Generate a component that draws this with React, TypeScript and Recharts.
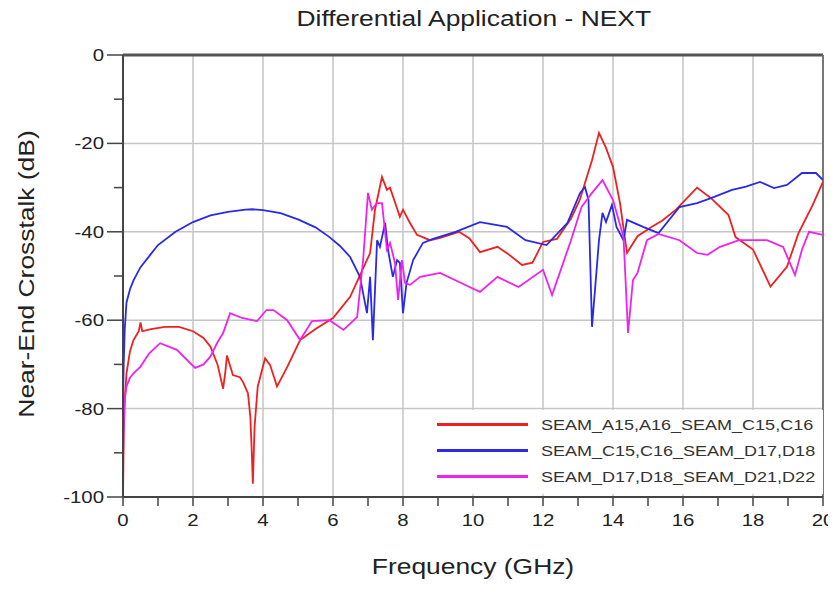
import { CartesianGrid, Legend, Line, LineChart, ReferenceLine, XAxis, YAxis } from "recharts";

const TITLE = "Differential Application - NEXT";
const X_LABEL = "Frequency (GHz)";
const Y_LABEL = "Near-End Crosstalk (dB)";

const SERIES_NAMES = [
  "SEAM_A15,A16_SEAM_C15,C16",
  "SEAM_C15,C16_SEAM_D17,D18",
  "SEAM_D17,D18_SEAM_D21,D22",
];
const COLORS = ["#ee2020", "#2a2ae6", "#ee22ee"];

const RED_FREQ = [
  0, 0.02, 0.05, 0.1, 0.2, 0.3, 0.45, 0.5, 0.55, 0.8, 1.2, 1.6, 2.0, 2.3, 2.5, 2.7, 2.86, 2.92, 2.97,
  3.14, 3.34, 3.43, 3.57, 3.64, 3.68, 3.71, 3.76, 3.85, 4.06, 4.2, 4.3, 4.4, 4.5, 4.69, 5.06, 5.5, 6.0,
  6.49, 7.06, 7.2, 7.4, 7.54, 7.63, 7.8, 7.91, 8.0, 8.2, 8.4, 8.77, 9.06, 9.6, 9.9, 10.2, 10.7, 11.0,
  11.4, 11.7, 12.0, 12.4, 12.8, 13.05, 13.4, 13.6, 13.8, 14.0, 14.2, 14.4, 14.7, 15.1, 15.4, 15.8, 16.4,
  16.8, 17.3, 17.5, 18.0, 18.5, 18.97, 19.3, 19.7, 20,
];
const RED_DB = [
  -100, -86, -78, -72, -67, -64.5, -62.5, -60.5, -62.5, -62, -61.5, -61.5, -62.5, -64, -66, -70, -75.5,
  -72, -68, -72.4, -72.9, -74, -76.5, -82, -90, -97, -84, -75, -68.6, -70.1, -72.5, -75, -73.5, -70.6,
  -64.5, -62, -59.5, -54.7, -44.8, -35, -27.6, -30.5, -30, -34, -36.6, -35, -38, -40.7, -41.9, -41.4,
  -40, -41.5, -44.6, -43.4, -45, -47.5, -47, -42.3, -41.6, -37, -32.8, -23.8, -17.6, -21, -25.3,
  -33.5, -44.8, -41, -38.9, -37.5, -35, -30, -32.4, -36.2, -41.2, -44, -52.4, -47.9, -40.3, -34, -28.7,
];

const BLUE_FREQ = [
  0, 0.02, 0.05, 0.1, 0.2, 0.3, 0.5, 0.8, 1.0, 1.5, 2.0, 2.5, 3.0, 3.5, 3.7, 4.0, 4.5, 5.0, 5.5, 5.9,
  6.2, 6.49, 6.77, 6.97, 7.06, 7.14, 7.26, 7.34, 7.49, 7.57, 7.71, 7.83, 7.91, 8.0, 8.1, 8.29, 8.57,
  8.86, 9.5, 10.2, 10.97, 11.5, 12.1, 12.7, 13.06, 13.2, 13.3, 13.4, 13.6, 13.7, 13.8, 13.97, 14.1,
  14.3, 14.4, 14.86, 15.3, 15.9, 16.4, 16.8, 17.4, 17.8, 18.2, 18.6, 18.97, 19.4, 19.8, 20,
];
const BLUE_DB = [
  -78, -70, -62, -56, -53, -51, -48, -45, -43, -40, -37.8, -36.3, -35.5, -35, -34.9, -35.1, -35.8,
  -37.2, -39, -41.2, -43.2, -45.7, -50.2, -58.4, -50.2, -64.5, -41.9, -43.4, -38, -44, -50.2, -46.4,
  -47, -58.4, -51.6, -46.4, -42.5, -41.6, -40, -37.8, -38.9, -41.9, -43, -38, -31.2, -29.9, -32.8,
  -61.5, -41.9, -35.7, -37.8, -33.9, -38.9, -41.9, -37.3, -38.9, -40.3, -34.4, -33.5, -32.4, -30.5,
  -29.8, -28.7, -30.1, -29.4, -26.7, -26.7, -28.3,
];

const PINK_FREQ = [
  0, 0.02, 0.05, 0.1, 0.2, 0.3, 0.49, 0.75, 1.06, 1.54, 2.06, 2.3, 2.49, 2.7, 2.86, 3.06, 3.4, 3.83,
  4.1, 4.3, 4.69, 5.06, 5.4, 5.9, 6.3, 6.69, 6.86, 7.0, 7.11, 7.25, 7.4, 7.54, 7.63, 7.77, 7.86, 7.97,
  8.06, 8.2, 8.49, 9.06, 9.9, 10.2, 10.7, 11.3, 12.0, 12.26, 12.8, 13.1, 13.4, 13.7, 14.0, 14.3, 14.43,
  14.57, 14.7, 14.97, 15.3, 15.9, 16.4, 16.7, 17.06, 17.6, 18.4, 18.86, 19.2, 19.4, 19.6, 20,
];
const PINK_DB = [
  -92, -84, -78, -75, -73, -72, -70.6, -67.5, -65.2, -66.7, -70.8, -70, -68.3, -65, -62.9, -58.4,
  -59.5, -60.2, -57.7, -57.7, -60, -64.5, -60.2, -60, -62.2, -59.3, -46.4, -31.2, -35, -33.5, -33.5,
  -44, -42.5, -47, -55.4, -46.4, -51.6, -52, -50.2, -49.3, -52.5, -53.6, -50.2, -52.5, -48.6, -54.3,
  -41.9, -34.4, -31.2, -28.3, -32.8, -41.2, -62.9, -50.9, -49.3, -41.9, -40.5, -41.9, -44.8, -45.2,
  -43.4, -41.9, -41.9, -43.4, -49.8, -44, -40, -40.7,
];

const X_TICKS = [0, 1, 2, 3, 4, 5, 6, 7, 8, 9, 10, 11, 12, 13, 14, 15, 16, 17, 18, 19, 20];
const Y_TICKS = [-100, -90, -80, -70, -60, -50, -40, -30, -20, -10, 0];
const X_GRID = [2, 4, 6, 8, 10, 12, 14, 16, 18];
const Y_GRID = [-20, -40, -60, -80];

const FONT = "'Liberation Sans', Arial, sans-serif";
const INK = "#222";
const AXIS = "#444";

const toPoints = (freq: number[], db: number[]) => freq.map((f, i) => ({ f, db: db[i] }));

const SERIES = [
  { name: SERIES_NAMES[0], color: COLORS[0], data: toPoints(RED_FREQ, RED_DB) },
  { name: SERIES_NAMES[1], color: COLORS[1], data: toPoints(BLUE_FREQ, BLUE_DB) },
  { name: SERIES_NAMES[2], color: COLORS[2], data: toPoints(PINK_FREQ, PINK_DB) },
];

function XTick({ x, y, payload }: any) {
  const v = payload.value;
  return (
    <g>
      <line x1={x} x2={x} y1={y} y2={y + 9} stroke={AXIS} strokeWidth={1.5} />
      {v % 2 === 0 && (
        <text
          transform={`translate(${x},${y + 29}) scale(1.2,1)`}
          textAnchor="middle"
          fontSize={17}
          fontFamily={FONT}
          fill={INK}
        >
          {v}
        </text>
      )}
    </g>
  );
}

function YTick({ x, y, payload }: any) {
  const v = payload.value;
  const major = v % 20 === 0;
  return (
    <g>
      <line x1={x - (major ? 16 : 9)} x2={x} y1={y} y2={y} stroke={AXIS} strokeWidth={1.5} />
      {major && (
        <text
          transform={`translate(${x - 19},${y + 6}) scale(1.2,1)`}
          textAnchor="end"
          fontSize={17}
          fontFamily={FONT}
          fill={INK}
        >
          {v}
        </text>
      )}
    </g>
  );
}

function LegendBox() {
  return (
    <div style={{ background: "#fff", width: 393, height: 84, paddingTop: 1, boxSizing: "border-box" }}>
      {SERIES.map((s) => (
        <div key={s.name} style={{ height: 26, display: "flex", alignItems: "center" }}>
          <div style={{ marginLeft: 7, width: 91, height: 3, background: s.color }} />
          <span
            style={{
              marginLeft: 13,
              fontFamily: FONT,
              fontSize: 15,
              color: "#333",
              display: "inline-block",
              transform: "scaleX(1.2)",
              transformOrigin: "left center",
              whiteSpace: "nowrap",
            }}
          >
            {s.name}
          </span>
        </div>
      ))}
    </div>
  );
}

export default function App() {
  return (
    <div style={{ position: "relative", width: 820, height: 578, background: "#fff" }}>
      <style>{`.recharts-surface { overflow: visible; }`}</style>
      <div
        style={{
          position: "absolute",
          left: 0,
          width: 820,
          top: -2,
          textAlign: "center",
          fontFamily: FONT,
          fontSize: 22,
          color: INK,
          paddingLeft: 112,
          boxSizing: "border-box",
        }}
      >
        <span style={{ display: "inline-block", transform: "scaleX(1.2)" }}>{TITLE}</span>
      </div>
      <LineChart width={820} height={578} margin={{ top: 47, right: 5, left: 55, bottom: 49 }}>
        <CartesianGrid
          stroke="#c6c6c6"
          strokeWidth={1.5}
          verticalValues={X_GRID}
          horizontalValues={Y_GRID}
        />
        <XAxis
          dataKey="f"
          type="number"
          domain={[0, 20]}
          ticks={X_TICKS}
          interval={0}
          height={40}
          tickSize={0}
          tickMargin={0}
          tickLine={false}
          axisLine={{ stroke: AXIS, strokeWidth: 2 }}
          tick={<XTick />}
          allowDataOverflow
          label={{
            value: X_LABEL,
            content: ({ viewBox }: any) => (
              <text
                transform={`translate(${viewBox.x + viewBox.width / 2},${viewBox.y + 77}) scale(1.2,1)`}
                textAnchor="middle"
                fontSize={22}
                fontFamily={FONT}
                fill={INK}
              >
                {X_LABEL}
              </text>
            ),
          }}
        />
        <YAxis
          type="number"
          domain={[-100, 0]}
          ticks={Y_TICKS}
          interval={0}
          width={60}
          tickSize={0}
          tickMargin={0}
          tickLine={false}
          axisLine={{ stroke: AXIS, strokeWidth: 2 }}
          tick={<YTick />}
          allowDataOverflow
          label={{
            value: Y_LABEL,
            content: () => (
              <text
                transform={`translate(26,266) rotate(-90) scale(1.2,1)`}
                textAnchor="middle"
                fontSize={22}
                fontFamily={FONT}
                fill={INK}
              >
                {Y_LABEL}
              </text>
            ),
          }}
        />
        <ReferenceLine y={0} stroke="#555" strokeWidth={3} />
        <ReferenceLine x={20} stroke="#777" strokeWidth={2} />
        {SERIES.map((s) => (
          <Line
            key={s.name}
            data={s.data}
            dataKey="db"
            name={s.name}
            stroke={s.color}
            strokeWidth={1.8}
            dot={false}
            activeDot={false}
            isAnimationActive={false}
          />
        ))}
        <Legend
          layout="vertical"
          align="center"
          verticalAlign="middle"
          content={() => <LegendBox />}
          wrapperStyle={{ left: 422, top: 402, width: 393, height: 84 }}
        />
      </LineChart>
    </div>
  );
}
